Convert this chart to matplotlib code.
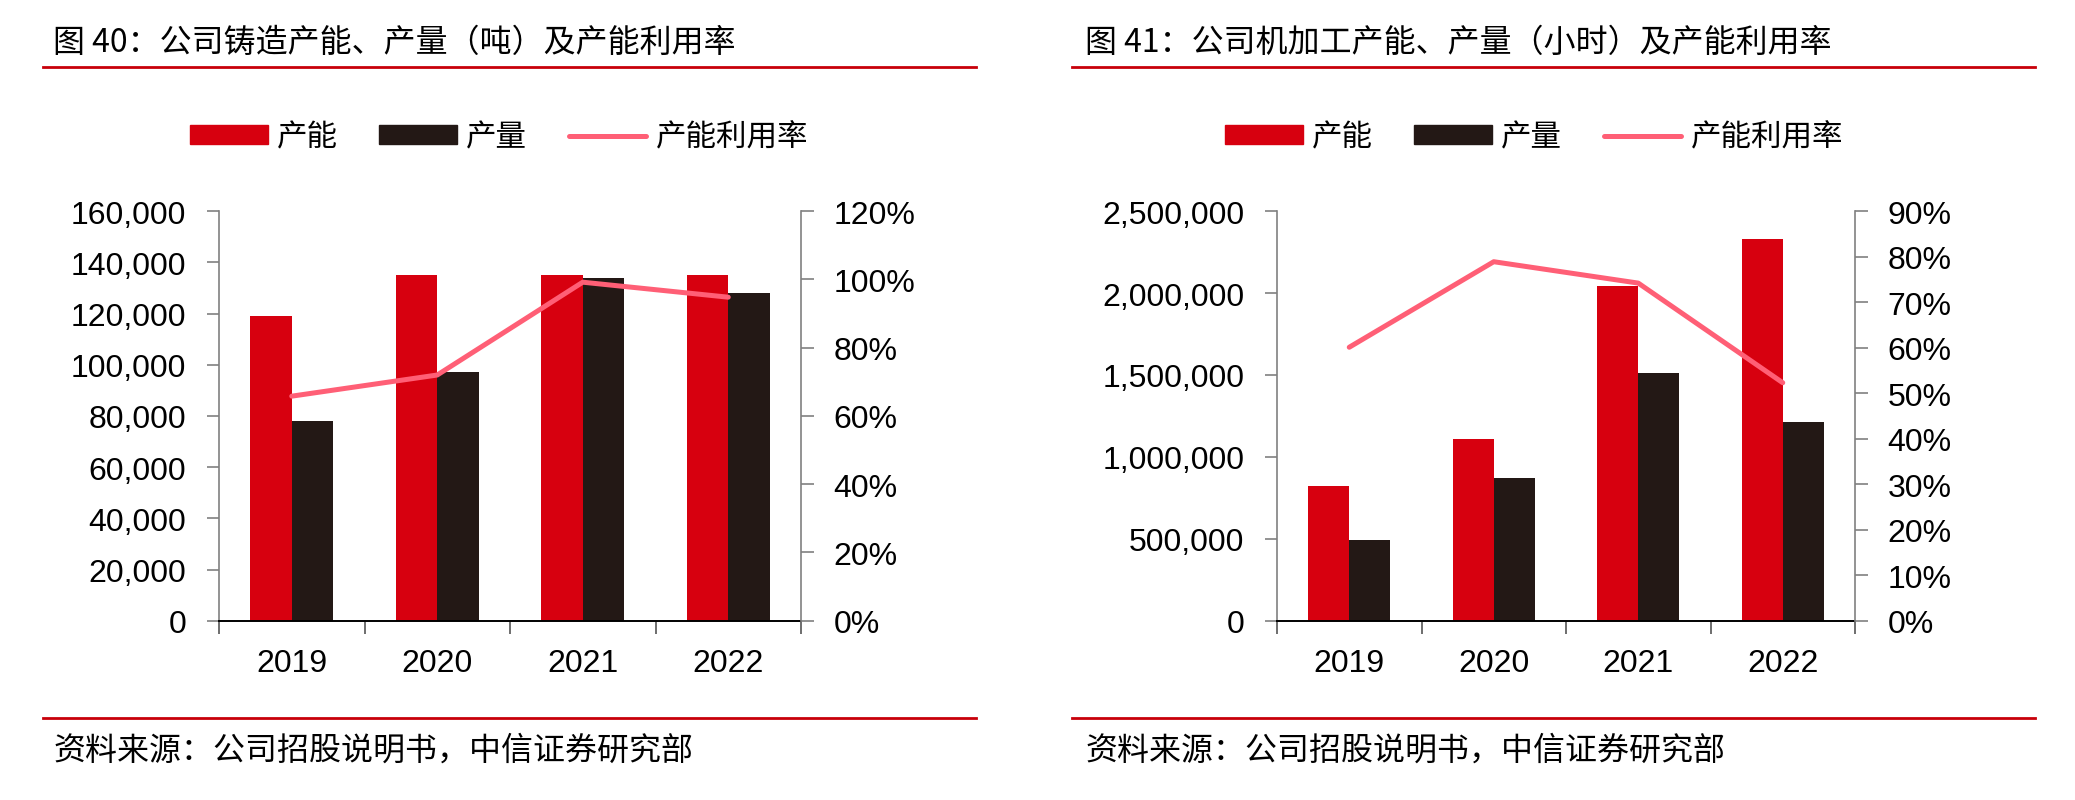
import matplotlib.pyplot as plt
import numpy as np
from matplotlib.lines import Line2D
from matplotlib.patches import Patch
from matplotlib.ticker import FuncFormatter

plt.rcParams['font.family'] = ['Liberation Sans', 'Noto Sans CJK SC', 'DejaVu Sans']
cjk = ['Noto Sans CJK SC', 'DejaVu Sans']

years = ['2019', '2020', '2021', '2022']

# 图40 铸造 (吨)
cast_capacity = [119000, 135000, 135000, 135000]
cast_output = [78000, 97000, 134000, 128000]
cast_util = [0.658, 0.720, 0.992, 0.948]

# 图41 机加工 (小时)
mach_capacity = [822000, 1107000, 2044000, 2331000]
mach_output = [495000, 871000, 1513000, 1213000]
mach_util = [0.601, 0.789, 0.742, 0.523]

RED = '#D7000F'
BLACK = '#231815'
PINK = '#FF5F76'
LINE_RED = '#C8000A'
GRAY = '#808080'
FS = 23
LW = 3.6

fig = plt.figure(figsize=(20.75, 8.0099), dpi=100)


def panel(rect, cap, out, util, ymax, ystep, rmax, rstep):
    ax = fig.add_axes(rect)
    x = np.arange(len(years))
    w = 0.285
    ax.bar(x - w / 2, cap, w, color=RED, zorder=2)
    ax.bar(x + w / 2, out, w, color=BLACK, zorder=2)
    ax.set_xlim(-0.5, len(years) - 0.5)
    ax.set_ylim(0, ymax)
    ax.set_yticks(np.arange(0, ymax + 1, ystep))
    ax.yaxis.set_major_formatter(FuncFormatter(lambda v, p: f'{int(v):,}'))
    ax.set_xticks(x)
    ax.set_xticklabels(years)
    ax.set_xticks(np.arange(-0.5, len(years)), minor=True)
    ax.tick_params(axis='x', which='major', length=0, pad=20, labelsize=FS)
    ax.tick_params(axis='x', which='minor', length=9, width=1.2, color='#555555')
    ax.tick_params(axis='y', length=9, width=1.2, color=GRAY, pad=14.5, labelsize=FS)
    ax.spines['top'].set_visible(False)
    ax.spines['right'].set_visible(False)
    ax.spines['left'].set_color(GRAY)
    ax.spines['left'].set_linewidth(1.2)
    ax.spines['bottom'].set_color('black')
    ax.spines['bottom'].set_linewidth(1.4)

    ax2 = ax.twinx()
    ax2.plot(x, util, color=PINK, lw=LW, solid_capstyle='round', zorder=3)
    ax2.set_ylim(0, rmax)
    ax2.set_yticks(np.arange(0, rmax + 1e-9, rstep))
    ax2.yaxis.set_major_formatter(FuncFormatter(lambda v, p: f'{v * 100:.0f}%'))
    ax2.tick_params(axis='y', length=9, width=1.2, color=GRAY, pad=14.5, labelsize=FS)
    for s in ['top', 'left', 'bottom']:
        ax2.spines[s].set_visible(False)
    ax2.spines['right'].set_color(GRAY)
    ax2.spines['right'].set_linewidth(1.2)
    return ax


panel([219 / 2075, 1 - 621.7 / 801, 582 / 2075, 409.5 / 801],
      cast_capacity, cast_output, cast_util, 160000, 20000, 1.2, 0.2)
panel([1277 / 2075, 1 - 621.7 / 801, 578 / 2075, 409.5 / 801],
      mach_capacity, mach_output, mach_util, 2500000, 500000, 0.9, 0.1)

handles = [Patch(color=RED), Patch(color=BLACK),
           Line2D([], [], color=PINK, lw=LW, solid_capstyle='round')]
labels = ['产能', '产量', '产能利用率']
for cx in [499 / 2075, 1534 / 2075]:
    fig.legend(handles, labels, loc='center', bbox_to_anchor=(cx, 1 - 138 / 801),
               ncol=3, frameon=False, prop={'family': cjk, 'size': 22},
               handlelength=2.55, handleheight=0.55, handletextpad=0.3,
               columnspacing=1.35)

titles = ['图 40：公司铸造产能、产量（吨）及产能利用率',
          '图 41：公司机加工产能、产量（小时）及产能利用率']
source = '资料来源：公司招股说明书，中信证券研究部'
for tx, (l0, l1), title in zip([53, 1085], [(43, 976), (1072, 2035)], titles):
    fig.text(tx / 2075, 1 - 43 / 801, title, family=cjk, fontsize=23, va='center', ha='left')
    fig.text(tx / 2075, 1 - 751 / 801, source, family=cjk, fontsize=23, va='center', ha='left')
    for ly in [68, 719]:
        fig.add_artist(Line2D([l0 / 2075, l1 / 2075], [1 - ly / 801, 1 - ly / 801],
                              color=LINE_RED, lw=2, transform=fig.transFigure))

fig.savefig('out.png', dpi=100)
